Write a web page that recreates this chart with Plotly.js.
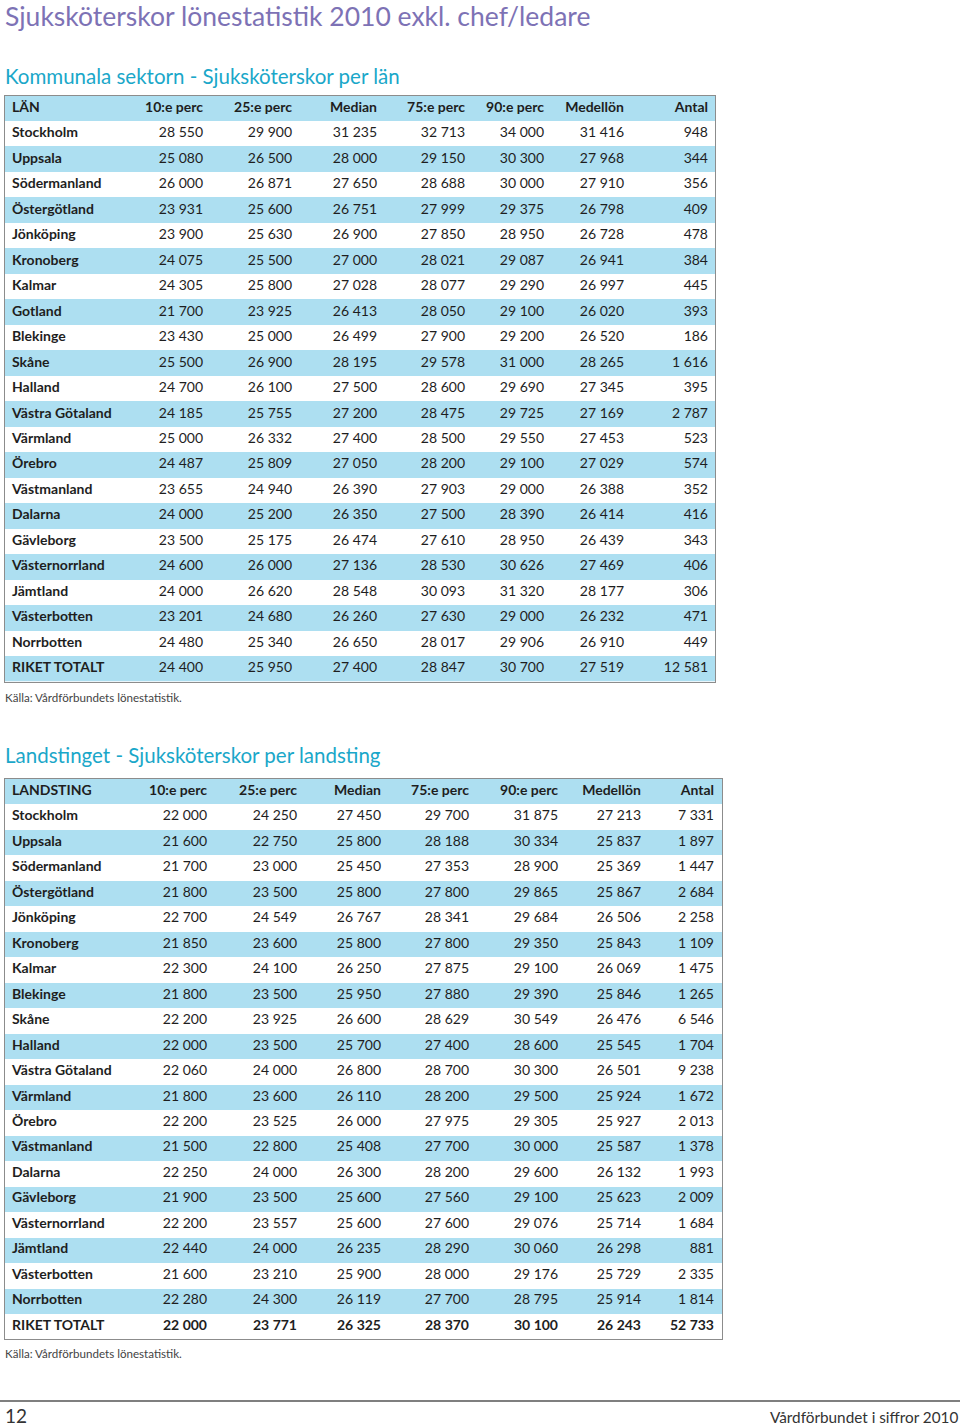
<!DOCTYPE html>
<html>
<head>
<meta charset="utf-8">
<script src="https://cdn.plot.ly/plotly-3.0.1.min.js"></script>
<style>
  body { margin: 0; background: #fff; }
  #plot { width: 960px; height: 1427px; }
</style>
</head>
<body>
<div id="plot"></div>
<script>
// Kommunala sektorn - per län
const lan = ["Stockholm", "Uppsala", "Södermanland", "Östergötland", "Jönköping", "Kronoberg", "Kalmar",
    "Gotland", "Blekinge", "Skåne", "Halland", "Västra Götaland", "Värmland", "Örebro", "Västmanland",
    "Dalarna", "Gävleborg", "Västernorrland", "Jämtland", "Västerbotten", "Norrbotten", "RIKET TOTALT"];
const kP10 = [28550, 25080, 26000, 23931, 23900, 24075, 24305, 21700, 23430, 25500, 24700, 24185, 25000, 24487, 23655, 24000, 23500, 24600, 24000, 23201, 24480, 24400];
const kP25 = [29900, 26500, 26871, 25600, 25630, 25500, 25800, 23925, 25000, 26900, 26100, 25755, 26332, 25809, 24940, 25200, 25175, 26000, 26620, 24680, 25340, 25950];
const kMedian = [31235, 28000, 27650, 26751, 26900, 27000, 27028, 26413, 26499, 28195, 27500, 27200, 27400, 27050, 26390, 26350, 26474, 27136, 28548, 26260, 26650, 27400];
const kP75 = [32713, 29150, 28688, 27999, 27850, 28021, 28077, 28050, 27900, 29578, 28600, 28475, 28500, 28200, 27903, 27500, 27610, 28530, 30093, 27630, 28017, 28847];
const kP90 = [34000, 30300, 30000, 29375, 28950, 29087, 29290, 29100, 29200, 31000, 29690, 29725, 29550, 29100, 29000, 28390, 28950, 30626, 31320, 29000, 29906, 30700];
const kMean = [31416, 27968, 27910, 26798, 26728, 26941, 26997, 26020, 26520, 28265, 27345, 27169, 27453, 27029, 26388, 26414, 26439, 27469, 28177, 26232, 26910, 27519];
const kAntal = [948, 344, 356, 409, 478, 384, 445, 393, 186, 1616, 395, 2787, 523, 574, 352, 416, 343, 406, 306, 471, 449, 12581];

// Landstinget - per landsting
const landsting = ["Stockholm", "Uppsala", "Södermanland", "Östergötland", "Jönköping", "Kronoberg", "Kalmar",
    "Blekinge", "Skåne", "Halland", "Västra Götaland", "Värmland", "Örebro", "Västmanland", "Dalarna",
    "Gävleborg", "Västernorrland", "Jämtland", "Västerbotten", "Norrbotten", "RIKET TOTALT"];
const lP10 = [22000, 21600, 21700, 21800, 22700, 21850, 22300, 21800, 22200, 22000, 22060, 21800, 22200, 21500, 22250, 21900, 22200, 22440, 21600, 22280, 22000];
const lP25 = [24250, 22750, 23000, 23500, 24549, 23600, 24100, 23500, 23925, 23500, 24000, 23600, 23525, 22800, 24000, 23500, 23557, 24000, 23210, 24300, 23771];
const lMedian = [27450, 25800, 25450, 25800, 26767, 25800, 26250, 25950, 26600, 25700, 26800, 26110, 26000, 25408, 26300, 25600, 25600, 26235, 25900, 26119, 26325];
const lP75 = [29700, 28188, 27353, 27800, 28341, 27800, 27875, 27880, 28629, 27400, 28700, 28200, 27975, 27700, 28200, 27560, 27600, 28290, 28000, 27700, 28370];
const lP90 = [31875, 30334, 28900, 29865, 29684, 29350, 29100, 29390, 30549, 28600, 30300, 29500, 29305, 30000, 29600, 29100, 29076, 30060, 29176, 28795, 30100];
const lMean = [27213, 25837, 25369, 25867, 26506, 25843, 26069, 25846, 26476, 25545, 26501, 25924, 25927, 25587, 26132, 25623, 25714, 26298, 25729, 25914, 26243];
const lAntal = [7331, 1897, 1447, 2684, 2258, 1109, 1475, 1265, 6546, 1704, 9238, 1672, 2013, 1378, 1993, 2009, 1684, 881, 2335, 1814, 52733];

const colHeads = ["10:e perc", "25:e perc", "Median", "75:e perc", "90:e perc", "Medellön", "Antal"];

const W = 960, H = 1427;
const BLUE = "#addff1";
const FONT = "Lato, 'Open Sans', sans-serif";
const TXT = "#1e1e1e";
const ROW = 25.48;

// thousands with a space, e.g. 28 550
function fmt(n) {
    return String(n).replace(/\B(?=(\d{3})+(?!\d))/g, " ");
}

function py(px) { return 1 - px / H; }
function pxx(px) { return px / W; }

// table geometry (pixels)
const t1 = { top: 95.5, left: 5, width: 710, nameX: 7, rights: [198, 287, 372, 460, 539, 619, 703] };
const t2 = { top: 778.5, left: 5, width: 717, nameX: 7, rights: [202, 292, 376, 464, 553, 636, 709] };

let traces = [];
let layout = {
    width: W, height: H,
    margin: { l: 0, r: 0, t: 0, b: 0 },
    paper_bgcolor: "#ffffff",
    plot_bgcolor: "#ffffff",
    showlegend: false
};

function addTable(n, geo, firstHead, names, cols, boldTotal) {
    let xa = n === 1 ? "x" : "x" + n, ya = n === 1 ? "y" : "y" + n;
    let rows = [firstHead].concat(names);
    let last = names.length - 1;

    // row stripes: header blue, then white / blue alternating
    traces.push({
        type: "heatmap", xaxis: xa, yaxis: ya,
        x: [0, geo.width], y: rows,
        z: rows.map((_, i) => [i === 0 ? 1 : (i % 2 === 1 ? 0 : 1)]),
        zmin: 0, zmax: 1, showscale: false, hoverinfo: "skip",
        colorscale: [[0, "#ffffff"], [1, BLUE]]
    });

    // first column: names, bold
    traces.push({
        type: "scatter", mode: "text", xaxis: xa, yaxis: ya,
        x: rows.map(() => geo.nameX), y: rows,
        text: rows.map(r => "<b>" + r + "</b>"),
        textposition: "middle right", cliponaxis: false,
        textfont: { family: FONT, size: 14, color: TXT }, hoverinfo: "skip"
    });

    cols.forEach((c, j) => {
        let txt = ["<b>" + colHeads[j] + "</b>"].concat(
            c.map((v, i) => (boldTotal && i === last) ? "<b>" + fmt(v) + "</b>" : fmt(v)));
        traces.push({
            type: "scatter", mode: "text", xaxis: xa, yaxis: ya,
            x: rows.map(() => geo.rights[j]), y: rows,
            text: txt, textposition: "middle left", cliponaxis: false,
            textfont: { family: FONT, size: 14, color: TXT }, hoverinfo: "skip"
        });
    });

    let bottom = geo.top + rows.length * ROW;
    let axBase = { showgrid: false, zeroline: false, showticklabels: false, ticks: "",
                   showline: true, mirror: true, linecolor: "#8c8c8c", linewidth: 1, fixedrange: true };
    layout[n === 1 ? "xaxis" : "xaxis" + n] = Object.assign({}, axBase, {
        domain: [pxx(geo.left), pxx(geo.left + geo.width)], range: [0, geo.width], anchor: ya
    });
    layout[n === 1 ? "yaxis" : "yaxis" + n] = Object.assign({}, axBase, {
        domain: [py(bottom), py(geo.top)], type: "category",
        categoryorder: "array", categoryarray: rows,
        range: [rows.length - 0.5, -0.5], anchor: xa
    });
}

addTable(1, t1, "LÄN", lan, [kP10, kP25, kMedian, kP75, kP90, kMean, kAntal], false);
addTable(2, t2, "LANDSTING", landsting, [lP10, lP25, lMedian, lP75, lP90, lMean, lAntal], true);

layout.annotations = [
    { text: "Sjuksköterskor lönestatistik 2010 exkl. chef/ledare", x: pxx(3), y: py(16),
      font: { family: FONT, size: 26.5, color: "#7d72b5" } },
    { text: "Kommunala sektorn - Sjuksköterskor per län", x: pxx(3), y: py(76),
      font: { family: FONT, size: 20.5, color: "#1aa7c9" } },
    { text: "Källa: Vårdförbundets lönestatistik.", x: pxx(3), y: py(697),
      font: { family: FONT, size: 11.6, color: "#444" } },
    { text: "Landstinget - Sjuksköterskor per landsting", x: pxx(3), y: py(755),
      font: { family: FONT, size: 20.5, color: "#1aa7c9" } },
    { text: "Källa: Vårdförbundets lönestatistik.", x: pxx(3), y: py(1353),
      font: { family: FONT, size: 11.6, color: "#444" } },
    { text: "12", x: pxx(3), y: py(1415),
      font: { family: FONT, size: 19, color: "#333" } },
    { text: "Vårdförbundet i siffror 2010", x: pxx(960), y: py(1417),
      xanchor: "right", font: { family: FONT, size: 15.3, color: "#333" } }
].map(a => Object.assign({ xref: "paper", yref: "paper", xanchor: "left", yanchor: "middle", showarrow: false }, a));

layout.shapes = [
    { type: "line", xref: "paper", yref: "paper", x0: 0, x1: 1, y0: py(1401), y1: py(1401),
      line: { color: "#555", width: 1.5 } }
];

Plotly.newPlot("plot", traces, layout, { staticPlot: true });
</script>
</body>
</html>
